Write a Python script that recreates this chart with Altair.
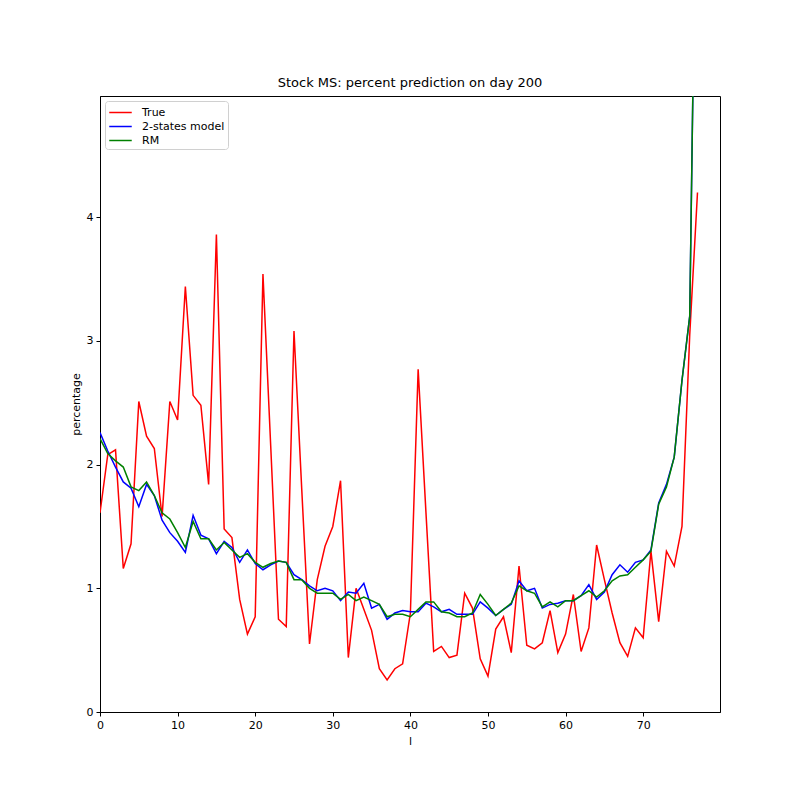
import altair as alt
import pandas as pd

x_vals = list(range(78))

true_vals = [1.61, 2.08, 2.12, 1.16, 1.36, 2.51, 2.23, 2.13, 1.58, 2.51,
             2.36, 3.44, 2.56, 2.48, 1.84, 3.86, 1.48, 1.41, 0.91, 0.63,
             0.77, 3.54, 2.15, 0.75, 0.69, 3.08, 1.80, 0.55, 1.07, 1.34,
             1.50, 1.87, 0.44, 1.00, 0.83, 0.66, 0.35, 0.26, 0.35, 0.39,
             0.80, 2.77, 1.62, 0.49, 0.53, 0.44, 0.46, 0.96, 0.84, 0.43,
             0.29, 0.67, 0.77, 0.48, 1.18, 0.54, 0.51, 0.56, 0.82, 0.48,
             0.63, 0.95, 0.49, 0.68, 1.35, 1.07, 0.80, 0.56, 0.45, 0.68,
             0.60, 1.30, 0.73, 1.30, 1.18, 1.50, 3.05, 4.20]

two_state_vals = [2.26, 2.11, 1.98, 1.86, 1.81, 1.66, 1.84, 1.75, 1.55, 1.45,
                  1.38, 1.29, 1.59, 1.43, 1.40, 1.28, 1.38, 1.33, 1.21, 1.31,
                  1.20, 1.15, 1.19, 1.22, 1.21, 1.11, 1.07, 1.02, 0.98, 1.00,
                  0.98, 0.90, 0.97, 0.96, 1.04, 0.84, 0.87, 0.75, 0.80, 0.82,
                  0.81, 0.81, 0.88, 0.85, 0.81, 0.83, 0.79, 0.79, 0.79, 0.89,
                  0.84, 0.78, 0.83, 0.87, 1.06, 0.98, 1.00, 0.84, 0.87, 0.88,
                  0.90, 0.90, 0.94, 1.03, 0.91, 0.97, 1.11, 1.19, 1.13, 1.21,
                  1.23, 1.31, 1.69, 1.84, 2.06, 2.68, 3.20, 7.70]

rm_vals = [2.21, 2.09, 2.03, 1.98, 1.82, 1.79, 1.86, 1.75, 1.61, 1.56,
           1.45, 1.33, 1.54, 1.40, 1.40, 1.31, 1.37, 1.31, 1.25, 1.28,
           1.21, 1.17, 1.20, 1.22, 1.21, 1.07, 1.07, 1.00, 0.96, 0.96,
           0.96, 0.91, 0.95, 0.90, 0.93, 0.90, 0.87, 0.77, 0.79, 0.79,
           0.77, 0.83, 0.89, 0.89, 0.81, 0.80, 0.77, 0.77, 0.80, 0.95,
           0.87, 0.78, 0.83, 0.88, 1.02, 0.98, 0.96, 0.85, 0.89, 0.85,
           0.90, 0.90, 0.94, 0.98, 0.93, 0.98, 1.06, 1.10, 1.11, 1.17,
           1.23, 1.30, 1.68, 1.82, 2.06, 2.68, 3.20, 7.70]

series_names = ["True", "2-states model", "RM"]
series_colors = ["#ff0000", "#0000ff", "#008000"]
x_ticks = [0, 10, 20, 30, 40, 50, 60, 70]
y_ticks = [0, 1, 2, 3, 4]

rows = []
for name, vals in zip(series_names, [true_vals, two_state_vals, rm_vals]):
    for xi, v in zip(x_vals, vals):
        rows.append({"l": xi, "value": v, "series": name})
df = pd.DataFrame(rows)

FONT = "DejaVu Sans"

color = alt.Color(
    "series:N",
    scale=alt.Scale(domain=series_names, range=series_colors),
    legend=alt.Legend(
        title=None,
        orient="top-left",
        offset=5,
        padding=3,
        rowPadding=0,
        fillColor="white",
        strokeColor="#d0d0d0",
        cornerRadius=3,
        symbolType="M-1.5,0L1.5,0",
        symbolSize=225,
        symbolStrokeWidth=1.5,
        symbolOffset=4,
        labelOffset=13,
        labelFont=FONT,
        labelFontSize=11,
        labelColor="black",
    ),
)

axis_common = dict(
    domain=True,
    domainColor="black",
    domainWidth=1,
    grid=False,
    ticks=True,
    tickColor="black",
    tickSize=4,
    tickWidth=1,
    labelFont=FONT,
    labelFontSize=11,
    labelColor="black",
    labelPadding=3,
    labelFlush=False,
    titleFont=FONT,
    titleFontSize=11,
    titleFontWeight="normal",
    titleColor="black",
    titlePadding=5,
    format="d",
)

x_enc = alt.X(
    "l:Q",
    scale=alt.Scale(domain=[0, 79.9], nice=False, zero=False),
    axis=alt.Axis(title="l", values=x_ticks, **axis_common),
)
y_enc = alt.Y(
    "value:Q",
    scale=alt.Scale(domain=[0, 4.98], nice=False),
    axis=alt.Axis(title="percentage", values=y_ticks, **axis_common),
)

layers = [
    alt.Chart(df)
    .transform_filter(alt.datum.series == n)
    .mark_line(clip=True, strokeWidth=1.5)
    .encode(x=x_enc, y=y_enc, color=color)
    for n in series_names
]

chart = (
    alt.layer(*layers)
    .properties(
        width=620,
        height=616,
        view=alt.ViewBackground(stroke="black", strokeWidth=1),
        title=alt.Title(
            "Stock MS: percent prediction on day 200",
            font=FONT,
            fontSize=13,
            fontWeight="normal",
            color="black",
            anchor="middle",
            offset=6,
        ),
        autosize=alt.AutoSizeParams(type="none"),
        padding={"left": 92, "top": 88, "right": 72, "bottom": 80},
    )
    .configure_view(stroke="black", strokeWidth=1)
    .configure(background="white")
)

chart.save("out.html", embed_options={"renderer": "svg", "actions": False})
